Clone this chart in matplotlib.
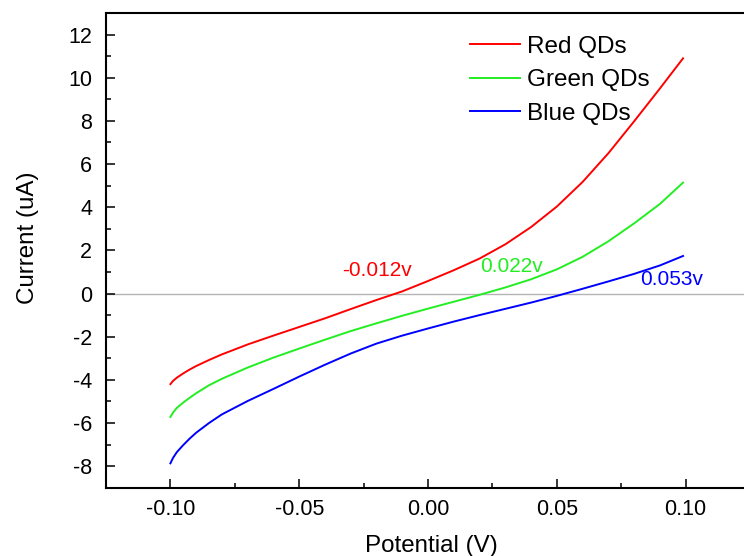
"""I-V curves of red, green and blue QDs with zero-current crossing potentials."""

import matplotlib.pyplot as plt
from matplotlib.ticker import MultipleLocator, FormatStrFormatter

plt.rcParams["font.family"] = ["Liberation Sans", "DejaVu Sans"]
plt.rcParams["axes.unicode_minus"] = False

# potential (V) and current (uA) for each sample
potential = [-0.100, -0.099, -0.0975, -0.095, -0.0925, -0.09, -0.085, -0.08, -0.07, -0.06,
             -0.05, -0.04, -0.03, -0.02, -0.01, 0.00, 0.01, 0.02, 0.03, 0.04,
             0.05, 0.06, 0.07, 0.08, 0.09, 0.099]
red_qds = [-4.20, -4.05, -3.90, -3.70, -3.52, -3.36, -3.08, -2.82, -2.36, -1.95,
           -1.55, -1.15, -0.72, -0.30, 0.10, 0.58, 1.08, 1.62, 2.28, 3.08,
           4.03, 5.17, 6.50, 7.98, 9.50, 10.90]
green_qds = [-5.72, -5.52, -5.30, -5.05, -4.83, -4.62, -4.25, -3.95, -3.43, -2.97,
             -2.55, -2.14, -1.74, -1.38, -1.03, -0.70, -0.38, -0.06, 0.28, 0.66,
             1.12, 1.70, 2.42, 3.25, 4.15, 5.14]
blue_qds = [-7.87, -7.62, -7.35, -7.02, -6.72, -6.45, -6.00, -5.60, -4.98, -4.42,
            -3.85, -3.30, -2.78, -2.32, -1.95, -1.62, -1.30, -1.00, -0.71, -0.42,
            -0.11, 0.22, 0.56, 0.91, 1.30, 1.74]

series = [("Red QDs", red_qds, "#ff0000"),
          ("Green QDs", green_qds, "#22ee22"),
          ("Blue QDs", blue_qds, "#0000ff")]

# open-circuit crossings: label text, x, y of label
crossings = [("-0.012v", -0.0333, 1.09, "#ff0000"),
             ("0.022v", 0.0202, 1.24, "#22ee22"),
             ("0.053v", 0.0822, 0.66, "#0000ff")]

fig = plt.figure(figsize=(7.44, 5.56), dpi=100)
ax = fig.add_axes([0.1425, 0.1228, 0.8656, 0.8538])

ax.axhline(0, color="#b4b4b4", lw=1.0, zorder=1)
for name, cur, col in series:
    ax.plot(potential, cur, color=col, lw=1.4, label=name, zorder=3)

for txt, x, y, col in crossings:
    ax.text(x, y, txt, color=col, fontsize=15, ha="left", va="center")

ax.set_xlim(-0.125, 0.125)
ax.set_ylim(-9, 13)
ax.xaxis.set_major_locator(MultipleLocator(0.05))
ax.xaxis.set_minor_locator(MultipleLocator(0.025))
ax.xaxis.set_major_formatter(FormatStrFormatter("%.2f"))
ax.yaxis.set_major_locator(MultipleLocator(2))
ax.yaxis.set_minor_locator(MultipleLocator(1))

ax.tick_params(which="both", direction="in", top=False, right=False, width=1.1)
ax.tick_params(which="major", length=6.5, labelsize=15.5)
ax.tick_params(axis="x", which="major", pad=8)
ax.tick_params(axis="y", which="major", pad=10)
ax.tick_params(which="minor", length=3.5)
for s in ax.spines.values():
    s.set_linewidth(1.5)

ax.set_xlabel("Potential (V)", fontsize=17.4)
ax.set_ylabel("Current (uA)", fontsize=17.4)
ax.xaxis.set_label_coords(0.505, -0.099)
ax.yaxis.set_label_coords(-0.104, 0.526)

ax.legend(loc="upper left", bbox_to_anchor=(0.565, 0.952), frameon=False,
          fontsize=17.5, handlelength=2.05, handletextpad=0.3, labelspacing=0.47,
          borderaxespad=0, borderpad=0)

fig.savefig("out.png", dpi=100)
